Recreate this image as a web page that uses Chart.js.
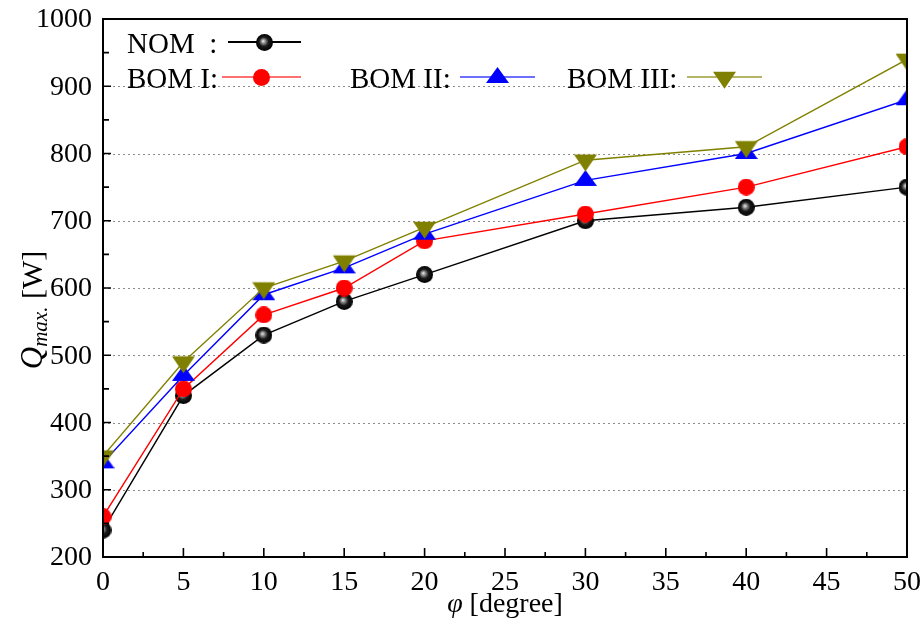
<!DOCTYPE html>
<html>
<head>
<meta charset="utf-8">
<script src="https://cdn.jsdelivr.net/npm/chart.js@4.4.1/dist/chart.umd.min.js"></script>
<style>
  html, body { margin: 0; padding: 0; background: #fff; }
  canvas { display: block; }
</style>
</head>
<body>
<canvas id="c" width="921" height="621"></canvas>
<script>
// Inclination angle (degrees) and maximum heat transport (W)
const angles = [0, 5, 10, 15, 20, 30, 40, 50];
const qNOM  = [240, 440, 530, 580, 620, 700, 720, 750];
const qBOM1 = [260, 450, 560, 600, 670, 710, 750, 810];
const qBOM2 = [340, 470, 590, 630, 680, 760, 800, 880];
const qBOM3 = [350, 490, 600, 640, 690, 790, 810, 940];

const xTickValues = [0, 5, 10, 15, 20, 25, 30, 35, 40, 45, 50];
const yTickValues = [200, 300, 400, 500, 600, 700, 800, 900, 1000];
const seriesNames = ['NOM', 'BOM I', 'BOM II', 'BOM III'];

const SERIF = '"Liberation Serif", "DejaVu Serif", serif';

// ---- marker images ----
function sphereMarker(r) {
  const c = document.createElement('canvas');
  c.width = c.height = Math.ceil(r * 2);
  const g = c.getContext('2d');
  const grad = g.createRadialGradient(r - 1.5, r - 1.5, 0, r, r, r);
  grad.addColorStop(0, '#f4f4f4');
  grad.addColorStop(0.25, '#8a8a8a');
  grad.addColorStop(0.55, '#1a1a1a');
  grad.addColorStop(1, '#000');
  g.fillStyle = grad;
  g.beginPath(); g.arc(r, r, r, 0, Math.PI * 2); g.fill();
  return c;
}
function discMarker(r, color) {
  const c = document.createElement('canvas');
  c.width = c.height = Math.ceil(r * 2);
  const g = c.getContext('2d');
  g.fillStyle = color;
  g.beginPath(); g.arc(r, r, r, 0, Math.PI * 2); g.fill();
  return c;
}
// triangle whose centroid sits at the image centre
function triMarker(w, h, color, down) {
  const H = Math.round(h * 4 / 3);
  const c = document.createElement('canvas');
  c.width = w; c.height = H;
  const g = c.getContext('2d');
  g.fillStyle = color;
  g.beginPath();
  if (down) {
    const y0 = h / 3;
    g.moveTo(0, y0); g.lineTo(w, y0); g.lineTo(w / 2, y0 + h);
  } else {
    g.moveTo(w / 2, 0); g.lineTo(w, h); g.lineTo(0, h);
  }
  g.closePath(); g.fill();
  return c;
}

const mkSphere = sphereMarker(8.5);
const mkRed = discMarker(8.5, '#ff0000');
const mkBlue = triMarker(23, 16, '#0000ff', false);
const mkOlive = triMarker(23, 17, '#808000', true);

const colors = ['#000000', '#ff0000', '#0000ff', '#808000'];
const legendLineColors = ['#000000', '#ff7070', '#6f6fff', '#b5b56a'];
const markers = [mkSphere, mkRed, mkBlue, mkOlive];
const seriesValues = [qNOM, qBOM1, qBOM2, qBOM3];

function toPoints(vals) { return angles.map((a, i) => ({ x: a, y: vals[i] })); }

// ---- axes, frame, labels and legend ----
const decor = {
  id: 'decor',
  beforeDatasetsDraw(chart) {
    const { ctx, chartArea: a, scales: { x, y } } = chart;
    ctx.save();
    ctx.strokeStyle = '#8c8c8c';
    ctx.lineWidth = 1;
    ctx.setLineDash([2, 3]);
    yTickValues.forEach(v => {
      if (v <= y.min || v >= y.max) return;
      const py = Math.round(y.getPixelForValue(v)) + 0.5;
      ctx.beginPath(); ctx.moveTo(a.left, py); ctx.lineTo(a.right, py); ctx.stroke();
    });
    ctx.restore();
  },
  afterDatasetsDraw(chart) {
    const { ctx, chartArea: a, scales: { x, y } } = chart;
    ctx.save();
    // frame
    ctx.strokeStyle = '#000';
    ctx.lineWidth = 2;
    ctx.strokeRect(a.left, a.top, a.right - a.left, a.bottom - a.top);
    // inward ticks
    ctx.lineWidth = 1.6;
    ctx.beginPath();
    for (let v = y.min; v <= y.max; v += 50) {
      const py = y.getPixelForValue(v);
      const len = (v % 100 === 0) ? 8 : 6;
      ctx.moveTo(a.left, py); ctx.lineTo(a.left + len, py);
    }
    for (let v = x.min; v <= x.max; v += 2.5) {
      const px = x.getPixelForValue(v);
      const len = (v % 5 === 0) ? 9 : 5;
      ctx.moveTo(px, a.bottom); ctx.lineTo(px, a.bottom - len);
    }
    ctx.stroke();

    // tick labels
    ctx.fillStyle = '#000';
    ctx.font = '28px ' + SERIF;
    ctx.textAlign = 'right';
    ctx.textBaseline = 'middle';
    yTickValues.forEach(v => ctx.fillText(String(v), a.left - 11, y.getPixelForValue(v) + 1));
    ctx.textAlign = 'center';
    ctx.textBaseline = 'alphabetic';
    xTickValues.forEach(v => ctx.fillText(String(v), x.getPixelForValue(v), a.bottom + 33));

    // x title: φ [degree]
    drawRuns(ctx, [
      { t: '\u03C6', f: 'italic 28px ' + SERIF, dy: 0 },
      { t: ' [degree]', f: '28px ' + SERIF, dy: 0 }
    ], (a.left + a.right) / 2, 612);

    // y title: Q_max. [W]
    ctx.save();
    ctx.translate(32, 310);
    ctx.rotate(-Math.PI / 2);
    drawRuns(ctx, [
      { t: 'Q', f: 'italic 31px ' + SERIF, dy: 0 },
      { t: 'max.', f: 'italic 21px ' + SERIF, dy: 5 },
      { t: ' [W]', f: '30px ' + SERIF, dy: 0 }
    ], 0, 10);
    ctx.restore();

    // legend
    const rows = [
      { i: 0, label: 'NOM  :', tx: 127, base: 53, lx1: 228, lx2: 301, ly: 42 },
      { i: 1, label: 'BOM I:', tx: 127, base: 88, lx1: 222, lx2: 301, ly: 77 },
      { i: 2, label: 'BOM II:', tx: 350, base: 88, lx1: 460, lx2: 535, ly: 77 },
      { i: 3, label: 'BOM III:', tx: 567, base: 88, lx1: 687, lx2: 762, ly: 77 }
    ];
    ctx.font = '29px ' + SERIF;
    ctx.textAlign = 'left';
    ctx.textBaseline = 'alphabetic';
    rows.forEach(r => {
      ctx.fillStyle = '#000';
      ctx.fillText(r.label, r.tx, r.base);
      ctx.strokeStyle = legendLineColors[r.i];
      ctx.lineWidth = 2;
      ctx.setLineDash([]);
      ctx.beginPath(); ctx.moveTo(r.lx1, r.ly); ctx.lineTo(r.lx2, r.ly); ctx.stroke();
      const m = markers[r.i];
      const cx = (r.lx1 + r.lx2) / 2;
      ctx.drawImage(m, Math.round(cx - m.width / 2), Math.round(r.ly - m.height / 2));
    });
    ctx.restore();
  }
};

function drawRuns(ctx, runs, cx, baseline) {
  let total = 0;
  runs.forEach(r => { ctx.font = r.f; r.w = ctx.measureText(r.t).width; total += r.w; });
  let xx = cx - total / 2;
  ctx.textAlign = 'left';
  ctx.textBaseline = 'alphabetic';
  ctx.fillStyle = '#000';
  runs.forEach(r => { ctx.font = r.f; ctx.fillText(r.t, xx, baseline + r.dy); xx += r.w; });
}

new Chart(document.getElementById('c'), {
  type: 'line',
  data: {
    datasets: seriesNames.map((name, i) => ({
      label: name,
      data: toPoints(seriesValues[i]),
      borderColor: colors[i],
      backgroundColor: colors[i],
      borderWidth: 1.4,
      pointStyle: markers[i],
      pointRadius: 9,
      pointHoverRadius: 9,
      pointBorderWidth: 0,
      tension: 0,
      fill: false,
      clip: 0,
      order: 4 - i
    }))
  },
  options: {
    responsive: false,
    animation: false,
    devicePixelRatio: 1,
    layout: { padding: { left: 103, top: 19, right: 14, bottom: 64 } },
    plugins: { legend: { display: false }, tooltip: { enabled: false } },
    scales: {
      x: {
        type: 'linear', min: 0, max: 50,
        ticks: { display: false, stepSize: 5 },
        grid: { display: false },
        border: { display: false },
        afterFit(s) { s.height = 0; }
      },
      y: {
        type: 'linear', min: 200, max: 1000,
        ticks: { display: false, stepSize: 100 },
        grid: { display: false },
        border: { display: false },
        afterFit(s) { s.width = 0; }
      }
    }
  },
  plugins: [decor]
});
</script>
</body>
</html>
